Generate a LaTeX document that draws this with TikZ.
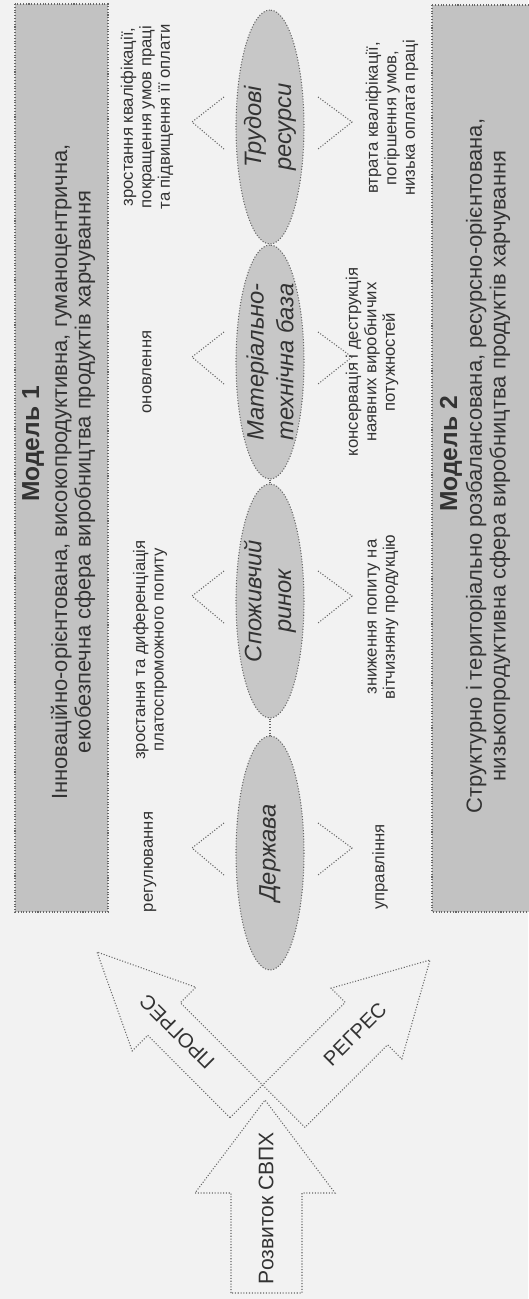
\documentclass[tikz,border=0pt]{standalone}
\usepackage{fontspec}
\setmainfont{Liberation Sans}
\usetikzlibrary{shapes.geometric}
\begin{document}
\begin{tikzpicture}[x=0.02cm,y=-0.02cm]

  \newcommand{\lchev}[1]{\draw[chevstl] (#1) ++(-46,-30) -- ++(-32,25) -- ++(32,27);}
  \newcommand{\rchev}[1]{\draw[chevstl] (#1) ++(48,-30) -- ++(34,25) -- ++(-34,27);}

  \definecolor{papcol}{gray}{0.95}
  \definecolor{bancol}{gray}{0.76}
  \definecolor{ellcol}{gray}{0.78}
  \definecolor{inkcol}{gray}{0.2}
  \definecolor{dotcol}{gray}{0.4}

  \tikzset{
      dotstl/.style={densely dotted,draw=dotcol,line width=0.6pt},
      banstl/.style={dotstl,fill=bancol},
      chevstl/.style={dotstl},
      ellstl/.style={dotstl,fill=ellcol,ellipse,rotate=90,minimum width=4.68cm,
        minimum height=1.36cm,inner sep=-4pt,align=center,text=inkcol,
        font=\fontsize{13.5}{17}\selectfont\itshape},
      modtxt/.style={rotate=90,inner sep=0pt,text=inkcol,font=\fontsize{14}{16}\selectfont\bfseries},
      bantxt/.style={rotate=90,inner sep=0pt,align=center,text=inkcol,font=\fontsize{12.5}{13.5}\selectfont},
      sidetxt/.style={rotate=90,inner sep=0pt,align=center,text=inkcol,font=\fontsize{9.5}{10.5}\selectfont},
      arrtxt/.style={inner sep=0pt,text=inkcol,font=\fontsize{11.5}{13}\selectfont},
    }

  \useasboundingbox (0,0) rectangle (528,1299);
  \fill[papcol] (0,0) rectangle (528,1299);

  %% the two models.
  \filldraw[banstl] (15,4) rectangle (108,912);
  \filldraw[banstl] (432,5) rectangle (532,912);

  \node[modtxt] (mod1) at (33,444) {Модель 1};
  \node[bantxt] (des1) at (73,472) {Інноваційно-орієнтована, високопродуктивна, гуманоцентрична,\\екобезпечна сфера виробництва продуктів харчування};

  \node[modtxt] (mod2) at (451,454) {Модель 2};
  \node[bantxt] (des2) at (488,466) {Структурно і територіально розбалансована, ресурсно-орієнтована,\\низькопродуктивна сфера виробництва продуктів харчування};

  %% factors.
  \node[ellstl] (trud) at (270,127) {Трудові\\ресурси};
  \node[ellstl] (mat) at (270,362) {Матеріально-\\технічна база};
  \node[ellstl] (spoz) at (270,601) {Споживчий\\ринок};
  \node[ellstl] (derzh) at (270,853) {Держава};

  \draw[dotstl] (trud.west) -- (mat.east);
  \draw[dotstl] (mat.west) -- (spoz.east);
  \draw[dotstl] (spoz.west) -- (derzh.east);

  \lchev{trud} \rchev{trud}
  \lchev{mat} \rchev{mat}
  \lchev{spoz} \rchev{spoz}
  \lchev{derzh} \rchev{derzh}

  % towards model 1.
  \node[sidetxt] (trudl) at (147,117) {зростання кваліфікації,\\покращення умов праці\\та підвищення її оплати};
  \node[sidetxt] (matl) at (147,372) {оновлення};
  \node[sidetxt] (spozl) at (150,650) {зростання та диференціація\\платоспроможного попиту};
  \node[sidetxt] (derzhl) at (150,862) {регулювання};

  % towards model 2.
  \node[sidetxt] (trudr) at (392,118) {втрата кваліфікації,\\погіршення умов,\\низька оплата праці};
  \node[sidetxt] (matr) at (372,362) {консервація і деструкція\\наявних виробничих\\потужностей};
  \node[sidetxt] (spozr) at (383,617) {зниження попиту на\\вітчизняну продукцію};
  \node[sidetxt] (derzhr) at (380,867) {управління};

  %% development arrow and its two branches.
  \coordinate (devtip) at (265,1100);
  \coordinate (progtip) at (97,952);
  \coordinate (regtip) at (430,960);
  \coordinate (vl) at (230,1117.6);
  \coordinate (vr) at (305,1127.4);

  \draw[dotstl] (vl) -- (147.7,1035.3) -- (132.2,1050.8) -- (progtip) -- (195.8,987.2) -- (180.3,1002.7) -- (vr);
  \draw[dotstl] (vl) -- (345.2,1002.4) -- (331,988.2) -- (regtip) -- (401.8,1059) -- (387.6,1044.8) -- (vr);
  \draw[dotstl] (231,1293) -- (231,1193) -- (195,1193) -- (devtip) -- (335,1193) -- (302,1193) -- (302,1293) -- cycle;

  \node[arrtxt,rotate=135] (prog) at (177,1032) {ПРОГРЕС};
  \node[arrtxt,rotate=45] (regr) at (355,1034) {РЕГРЕС};
  \node[arrtxt,rotate=90,font=\fontsize{12}{14}\selectfont] (razv) at (266,1208) {Розвиток СВПХ};

\end{tikzpicture}
\end{document}
